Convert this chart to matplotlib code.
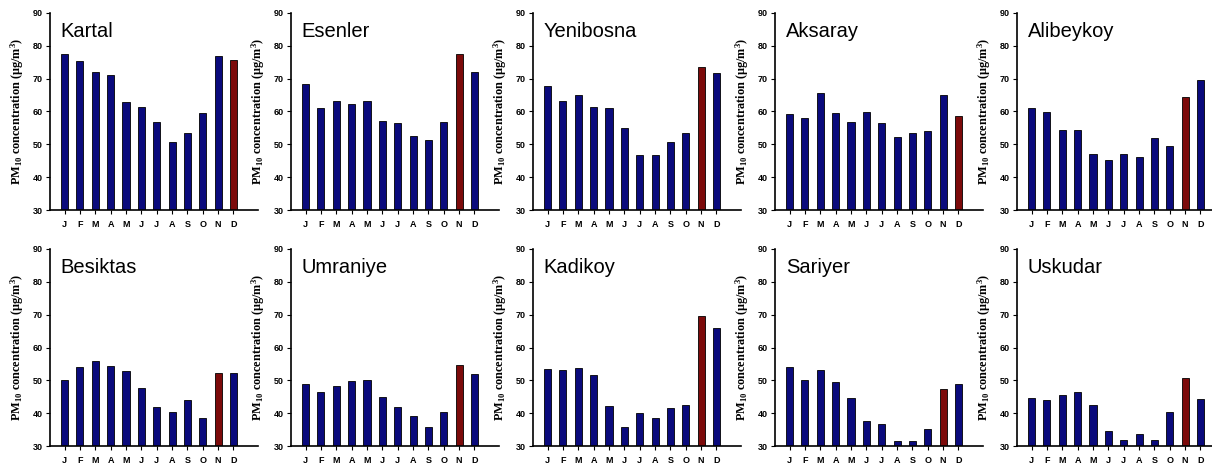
import matplotlib
matplotlib.use("Agg")
import matplotlib.pyplot as plt
import numpy as np

plt.rcParams["mathtext.fontset"] = "custom"
plt.rcParams["mathtext.rm"] = "Liberation Serif:bold"
plt.rcParams["mathtext.it"] = "Liberation Serif:bold"
plt.rcParams["mathtext.bf"] = "Liberation Serif:bold"
plt.rcParams["mathtext.default"] = "regular"

months = ["J", "F", "M", "A", "M", "J", "J", "A", "S", "O", "N", "D"]
stations = ["Kartal", "Esenler", "Yenibosna", "Aksaray", "Alibeykoy",
            "Besiktas", "Umraniye", "Kadikoy", "Sariyer", "Uskudar"]

kartal    = [77.5, 75.3, 72.1, 71.2, 62.8, 61.3, 56.8, 50.7, 53.6, 59.4, 76.8, 75.6]
esenler   = [68.5, 61.0, 63.3, 62.4, 63.1, 57.1, 56.5, 52.4, 51.2, 56.7, 77.5, 72.1]
yenibosna = [67.8, 63.1, 65.1, 61.3, 61.0, 55.1, 46.8, 46.6, 50.7, 53.3, 73.6, 71.7]
aksaray   = [59.2, 58.1, 65.5, 59.6, 56.8, 59.7, 56.4, 52.1, 53.4, 54.0, 65.1, 58.5]
alibeykoy = [61.0, 59.7, 54.3, 54.3, 47.0, 45.2, 47.2, 46.2, 51.9, 49.5, 64.3, 69.7]
besiktas  = [50.1, 54.1, 56.0, 54.5, 52.7, 47.6, 42.0, 40.4, 44.1, 38.6, 52.1, 52.1]
umraniye  = [48.8, 46.5, 48.3, 49.9, 50.2, 44.9, 41.9, 39.1, 35.8, 40.4, 54.8, 51.8]
kadikoy   = [53.3, 53.2, 53.7, 51.7, 42.3, 35.8, 40.1, 38.4, 41.5, 42.6, 69.6, 65.9]
sariyer   = [54.1, 50.2, 53.2, 49.6, 44.6, 37.5, 36.8, 31.4, 31.6, 35.2, 47.3, 49.0]
uskudar   = [44.6, 44.0, 45.6, 46.4, 42.6, 34.5, 31.7, 33.8, 31.9, 40.3, 50.6, 44.4]

series = [kartal, esenler, yenibosna, aksaray, alibeykoy,
          besiktas, umraniye, kadikoy, sariyer, uskudar]
# index of the month highlighted in red for each station
highlight = [11, 10, 10, 11, 10, 10, 10, 10, 10, 10]

W, H = 1212, 468
fig = plt.figure(figsize=(W / 100, H / 100), dpi=100)

lefts = [50, 291, 533, 775, 1017]
tops = [13, 249]
ax_w = 208
ax_h = 197

navy = "#0a0a7c"
red = "#7c0a0a"

for i, (name, vals) in enumerate(zip(stations, series)):
    row, col = divmod(i, 5)
    l = lefts[col] / W
    b = 1 - (tops[row] + ax_h) / H
    ax = fig.add_axes([l, b, ax_w / W, ax_h / H])
    x = np.arange(12)
    colors = [red if k == highlight[i] else navy for k in range(12)]
    ax.bar(x, np.array(vals) - 30, bottom=30, width=0.46, color=colors,
           edgecolor="black", linewidth=0.6, zorder=2)
    ax.set_ylim(30, 90)
    ax.set_xlim(-0.95, 12.6)
    ax.set_yticks(range(30, 91, 10))
    ax.set_xticks(x)
    ax.set_xticklabels(months)
    for lab in ax.get_xticklabels() + ax.get_yticklabels():
        lab.set_fontweight("bold")
        lab.set_fontsize(6.5)
        lab.set_fontfamily("Liberation Sans")
    ax.tick_params(axis="both", direction="out", length=3, width=0.8, pad=2)
    ax.tick_params(axis="x", pad=4)
    for s in ["top", "right"]:
        ax.spines[s].set_visible(False)
    for s in ["left", "bottom"]:
        ax.spines[s].set_linewidth(1.2)
    ax.set_ylabel("PM$_{10}$ concentration (\u03bcg/m$^{3}$)", fontsize=8.8,
                  fontfamily="Liberation Serif", fontweight="bold", labelpad=5)
    ax.text(-0.25, 84.5, name, fontsize=14.5, fontfamily="Liberation Sans",
            ha="left", va="center")

fig.savefig("out.png", dpi=100)
